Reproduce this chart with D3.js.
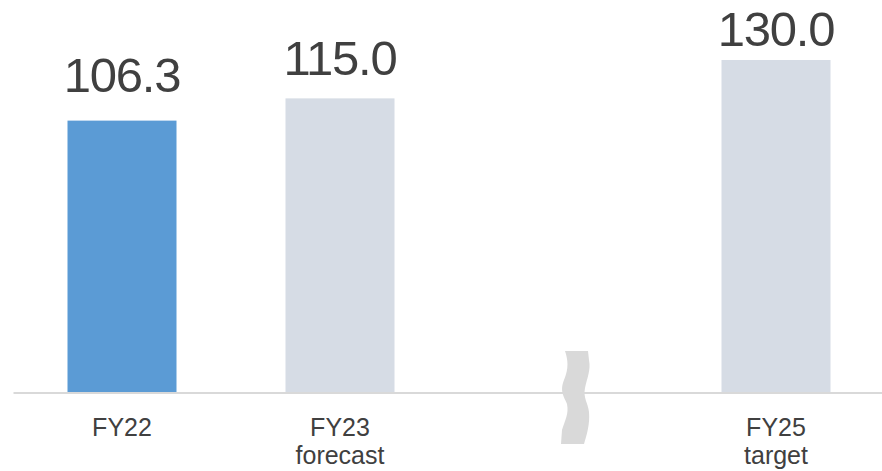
<!DOCTYPE html>
<html>
<head>
<meta charset="utf-8">
<script src="https://cdn.jsdelivr.net/npm/d3@7"></script>
<style>
  html, body { margin: 0; padding: 0; background: #fff; }
  svg { display: block; font-family: "Liberation Sans", Arial, sans-serif; }
</style>
</head>
<body>
<svg id="chart" width="882" height="471"></svg>
<script>
// slots on the x axis, the empty one is the axis break (FY24 skipped)
const slots = ["FY22", "FY23", "break", "FY25"];
const categories = ["FY22", "FY23", "FY25"];
const values = [106.3, 115.0, 130.0];
const valueLabels = ["106.3", "115.0", "130.0"];
const tickLines = [["FY22"], ["FY23", "forecast"], ["FY25", "target"]];
const barColors = ["#5B9BD5", "#D6DCE5", "#D6DCE5"];

const width = 882, height = 471;
const baseY = 392.5;

const svg = d3.select("#chart");

//x : band scale over the four slots
const x = d3.scaleBand()
  .domain(slots)
  .range([13, 885])
  .paddingInner(0.5)
  .paddingOuter(0.25);

//y : linear from zero
const y = d3.scaleLinear().domain([0, 130]).range([baseY, 60]);
//labels sit on a flatter scale than the bars (as in the original slide)
const yLabel = d3.scaleLinear().domain([0, 130]).range([300, 46]);

const data = categories.map((c, i) => ({ cat: c, v: values[i], label: valueLabels[i], color: barColors[i] }));

//bars
svg.selectAll("rect.bar").data(data).enter().append("rect")
  .attr("class", "bar")
  .attr("x", d => x(d.cat))
  .attr("y", d => y(d.v))
  .attr("width", x.bandwidth())
  .attr("height", d => baseY - y(d.v))
  .attr("fill", d => d.color);

//value labels
svg.selectAll("text.val").data(data).enter().append("text")
  .attr("class", "val")
  .attr("x", d => x(d.cat) + x.bandwidth() / 2)
  .attr("y", d => yLabel(d.v))
  .attr("text-anchor", "middle")
  .attr("fill", "#404040")
  .style("font-size", "49px")
  .style("letter-spacing", "-1.2px")
  .text(d => d.label);

//axis (baseline only, labels done by hand for 2 lines)
const xAxis = d3.axisBottom(x).tickSize(0).tickSizeOuter(0).tickFormat("");
const gx = svg.append("g").attr("transform", `translate(0, ${baseY})`).call(xAxis);
gx.select(".domain").attr("stroke", "#D9D9D9").attr("stroke-width", 2);
gx.selectAll(".tick").remove();

//tick labels
const lab = svg.selectAll("text.tick").data(categories).enter().append("text")
  .attr("class", "tick")
  .attr("text-anchor", "middle")
  .attr("fill", "#404040")
  .style("font-size", "25px");
lab.each(function (c, i) {
  const t = d3.select(this);
  tickLines[i].forEach((line, j) => {
    t.append("tspan")
      .attr("x", x(c) + x.bandwidth() / 2)
      .attr("y", baseY + 43 + j * 28)
      .text(line);
  });
});

//axis break symbol (wavy band)
const bx = x("break") + x.bandwidth() / 2 + 17;
const wave = d3.path();
wave.moveTo(bx - 10, 351);
wave.bezierCurveTo(bx - 7, 360, bx - 6, 368, bx - 11, 380);
wave.bezierCurveTo(bx - 16, 392, bx - 10, 398, bx - 8, 404);
wave.bezierCurveTo(bx - 6, 414, bx - 10, 420, bx - 13, 430);
wave.lineTo(bx - 14, 444);
wave.lineTo(bx + 9, 444);
wave.bezierCurveTo(bx + 12, 434, bx + 15, 424, bx + 14, 412);
wave.bezierCurveTo(bx + 13, 403, bx + 8, 398, bx + 10, 388);
wave.bezierCurveTo(bx + 12, 378, bx + 16, 370, bx + 14, 360);
wave.lineTo(bx + 13, 351);
wave.closePath();
svg.append("path")
  .attr("d", wave.toString())
  .attr("fill", "#D9D9D9");
</script>
</body>
</html>
